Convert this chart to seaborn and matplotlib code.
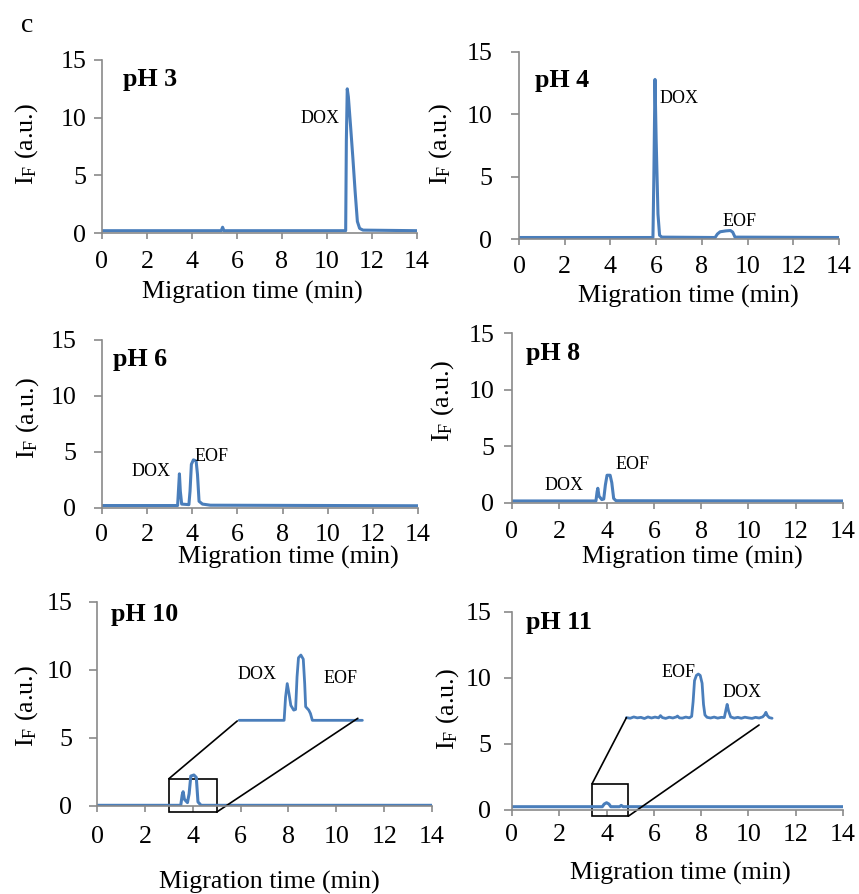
import matplotlib
matplotlib.use("Agg")
import matplotlib.pyplot as plt
from matplotlib.patches import Rectangle
import seaborn as sns

# ---- electropherogram traces (migration time in min, fluorescence in a.u.) ----
ph3_t = [0, 5.30, 5.36, 5.42, 10.83, 10.86, 10.90, 10.95, 11.05, 11.15, 11.25, 11.35, 11.45, 11.6, 14]
ph3_i = [0.20, 0.20, 0.50, 0.20, 0.20, 8.0, 12.5, 11.8, 9.2, 6.5, 3.6, 1.0, 0.40, 0.25, 0.20]

ph4_t = [0, 5.86, 5.90, 5.95, 6.00, 6.08, 6.15, 6.25, 8.58, 8.68, 8.80, 9.05, 9.25, 9.35, 9.45, 14]
ph4_i = [0.12, 0.12, 5.0, 12.8, 8.0, 2.0, 0.30, 0.15, 0.12, 0.40, 0.58, 0.65, 0.68, 0.55, 0.15, 0.12]

ph6_t = [0, 3.35, 3.40, 3.43, 3.47, 3.53, 3.85, 3.90, 3.96, 4.05, 4.17, 4.23, 4.30, 4.45, 4.8, 14]
ph6_i = [0.22, 0.22, 2.0, 3.05, 1.5, 0.35, 0.30, 1.5, 3.9, 4.3, 4.2, 3.0, 0.6, 0.35, 0.25, 0.20]

ph8_t = [0, 3.55, 3.60, 3.63, 3.68, 3.80, 3.88, 3.95, 4.02, 4.15, 4.22, 4.30, 4.40, 14]
ph8_i = [0.18, 0.18, 1.0, 1.3, 0.6, 0.30, 0.35, 1.6, 2.45, 2.45, 1.8, 0.40, 0.20, 0.18]

ph10_t = [0, 3.50, 3.56, 3.60, 3.65, 3.78, 3.85, 3.92, 4.05, 4.15, 4.22, 4.35, 14]
ph10_i = [0.05, 0.05, 0.8, 1.05, 0.5, 0.25, 0.9, 2.2, 2.28, 2.1, 0.3, 0.05, 0.05]

# magnified view of the 3-5 min window at pH 10 (drawn offset inside the panel)
ph10_zoom_t = [5.94, 7.82, 7.88, 7.95, 8.02, 8.10, 8.22, 8.30, 8.36, 8.42, 8.52, 8.62, 8.68, 8.72, 8.85, 8.92, 9.0, 11.09]
ph10_zoom_i = [6.3, 6.3, 8.0, 9.0, 8.3, 7.4, 7.05, 7.1, 9.5, 10.9, 11.1, 10.8, 9.0, 7.3, 7.05, 6.8, 6.3, 6.3]

ph11_t = [0, 3.82, 3.90, 4.00, 4.10, 4.18, 4.55, 4.62, 4.70, 14]
ph11_i = [0.25, 0.25, 0.45, 0.55, 0.45, 0.25, 0.25, 0.35, 0.25, 0.25]

# magnified view of the 3.4-4.9 min window at pH 11
ph11_zoom_t = [4.84, 5.0, 5.15, 5.3, 5.45, 5.6, 5.75, 5.9, 6.05, 6.2,
               6.28, 6.36, 6.5, 6.65, 6.8, 6.95, 7.0, 7.08, 7.2, 7.35,
               7.5, 7.6, 7.66, 7.72, 7.80, 7.88, 7.96, 8.04, 8.10, 8.16,
               8.25, 8.4, 8.55, 8.7, 8.85, 8.98, 9.05, 9.10, 9.16, 9.25,
               9.4, 9.55, 9.7, 9.85, 10.0, 10.15, 10.3, 10.45, 10.6, 10.68,
               10.74, 10.80, 10.88, 11.0]
ph11_zoom_i = [7.0, 6.95, 7.05, 6.98, 7.02, 6.93, 7.05, 6.97, 7.04, 6.98,
               7.15, 7.0, 6.94, 7.03, 6.97, 7.05, 7.12, 6.98, 6.96, 7.04,
               6.98, 7.1, 8.2, 9.8, 10.2, 10.3, 10.2, 9.6, 8.0, 7.2,
               7.02, 6.97, 7.04, 6.96, 7.02, 7.0, 7.6, 8.0, 7.5, 7.05,
               6.96, 7.02, 6.95, 7.03, 6.98, 6.94, 7.02, 6.97, 7.05, 7.2,
               7.4, 7.15, 7.0, 6.95]

x_ticks = [0, 2, 4, 6, 8, 10, 12, 14]
y_ticks = [0, 5, 10, 15]
panel_titles = ["pH 3", "pH 4", "pH 6", "pH 8", "pH 10", "pH 11"]

# ---- styling ----
BLUE = "#4a7ebb"
GREY = "#8a8a8a"
W, H = 859, 894

sns.set_theme(style="white")
plt.rcParams.update({
    "font.family": ["Liberation Serif", "DejaVu Serif"],
    "mathtext.fontset": "custom",
    "mathtext.rm": "Liberation Serif",
    "mathtext.it": "Liberation Serif:italic",
    "mathtext.bf": "Liberation Serif:bold",
    "axes.linewidth": 1.2,
    "text.color": "black",
    "axes.labelcolor": "black",
    "xtick.labelcolor": "black",
    "ytick.labelcolor": "black",
})

FS = 18.7      # tick / axis label size
FS_PEAK = 13   # peak annotations


def px_rect(left, y0, right, y15):
    """Axes rectangle from pixel positions of x=0, x=14, y=0 and y=15."""
    return [left / W, 1 - y0 / H, (right - left) / W, (y0 - y15) / H]


# rect, x-tick pad, y-tick pad, xlabel coords, ylabel coords
layout = [
    (px_rect(102, 233, 417, 60), 8.3, 5.8, (0.476, -0.341), (-0.238, 0.514)),
    (px_rect(519, 239, 839, 52), 7.6, 13.7, (0.528, -0.305), (-0.244, 0.508)),
    (px_rect(102, 508, 418, 340), 6.8, 13.0, (0.589, -0.292), (-0.237, 0.536)),
    (px_rect(512, 503, 843, 333), 8.3, 7.2, (0.544, -0.318), (-0.211, 0.600)),
    (px_rect(97, 806, 432, 602), 9.7, 12.2, (0.516, -0.377), (-0.209, 0.490)),
    (px_rect(512, 810, 843, 612), 5.4, 9.4, (0.508, -0.318), (-0.196, 0.510)),
]

title_pos = [(0.92, 13.27), (0.70, 12.75), (0.50, 13.3), (0.59, 13.15), (0.59, 14.1), (0.60, 14.2)]

traces = [(ph3_t, ph3_i), (ph4_t, ph4_i), (ph6_t, ph6_i),
          (ph8_t, ph8_i), (ph10_t, ph10_i), (ph11_t, ph11_i)]

for t, i in traces + [(ph10_zoom_t, ph10_zoom_i), (ph11_zoom_t, ph11_zoom_i)]:
    assert len(t) == len(i)

fig = plt.figure(figsize=(W / 100, H / 100), dpi=100)
fig.patch.set_facecolor("white")

axes = []
for k, (rect, xpad, ypad, xl, yl) in enumerate(layout):
    ax = fig.add_axes(rect)
    axes.append(ax)
    t, i = traces[k]
    sns.lineplot(x=t, y=i, ax=ax, color=BLUE, lw=2.2, sort=False, estimator=None)

    ax.set_xlim(0, 14)
    ax.set_ylim(0, 15)
    ax.set_xticks(x_ticks)
    ax.set_yticks(y_ticks)
    ax.set_xticklabels([str(v) for v in x_ticks], fontsize=FS)
    ax.set_yticklabels([str(v) for v in y_ticks], fontsize=FS)
    ax.tick_params(axis="x", direction="out", length=4.5, width=1.2, color=GREY,
                   pad=xpad, labelcolor="black", bottom=True)
    ax.tick_params(axis="y", direction="out", length=5.5, width=1.2, color=GREY,
                   pad=ypad, labelcolor="black", left=True)
    for side in ("top", "right"):
        ax.spines[side].set_visible(False)
    for side in ("left", "bottom"):
        ax.spines[side].set_color(GREY)
        ax.spines[side].set_linewidth(1.2)
    ax.set_facecolor("none")

    ax.set_xlabel("Migration time (min)", fontsize=FS, va="center", ha="center", color="black")
    ax.xaxis.set_label_coords(*xl)
    ax.set_ylabel(r"I$_\mathrm{F}$ (a.u.)", fontsize=FS, va="center", ha="center", color="black")
    ax.yaxis.set_label_coords(*yl)

    tx, ty = title_pos[k]
    ax.text(tx, ty, panel_titles[k], fontsize=FS, fontweight="bold", ha="left", va="center",
            color="black")

ax3, ax4, ax6, ax8, ax10, ax11 = axes

# peak annotations
peak_kw = dict(fontsize=FS_PEAK, va="center", color="black")
ax3.text(9.69, 9.9, "DOX", ha="center", **peak_kw)
ax4.text(6.14, 11.3, "DOX", ha="left", **peak_kw)
ax4.text(9.65, 1.44, "EOF", ha="center", **peak_kw)
ax6.text(2.19, 3.3, "DOX", ha="center", **peak_kw)
ax6.text(4.86, 4.64, "EOF", ha="center", **peak_kw)
ax8.text(2.2, 1.54, "DOX", ha="center", **peak_kw)
ax8.text(5.08, 3.4, "EOF", ha="center", **peak_kw)
ax10.text(6.69, 9.7, "DOX", ha="center", **peak_kw)
ax10.text(10.19, 9.38, "EOF", ha="center", **peak_kw)
ax11.text(7.05, 10.42, "EOF", ha="center", **peak_kw)
ax11.text(9.73, 8.9, "DOX", ha="center", **peak_kw)

# magnified windows with their connector lines
sns.lineplot(x=ph10_zoom_t, y=ph10_zoom_i, ax=ax10, color=BLUE, lw=2.0, sort=False, estimator=None)
ax10.add_patch(Rectangle((3.0, -0.45), 2.0, 2.45, fill=False, ec="black", lw=1.2, clip_on=False))
ax10.plot([3.0, 5.86], [2.0, 6.25], color="black", lw=1.2)
ax10.plot([5.0, 10.9], [-0.45, 6.45], color="black", lw=1.2, clip_on=False)

sns.lineplot(x=ph11_zoom_t, y=ph11_zoom_i, ax=ax11, color=BLUE, lw=2.0, sort=False, estimator=None)
ax11.add_patch(Rectangle((3.39, -0.47), 1.53, 2.47, fill=False, ec="black", lw=1.2, clip_on=False))
ax11.plot([3.39, 4.84], [2.0, 7.0], color="black", lw=1.2)
ax11.plot([4.92, 10.45], [-0.47, 6.44], color="black", lw=1.2, clip_on=False)

for ax in axes:
    leg = ax.get_legend()
    if leg is not None:
        leg.remove()

fig.text(27 / W, 1 - 26 / H, "c", fontsize=20, ha="center", va="center", color="black")

fig.savefig("out.png", dpi=100, facecolor="white")
